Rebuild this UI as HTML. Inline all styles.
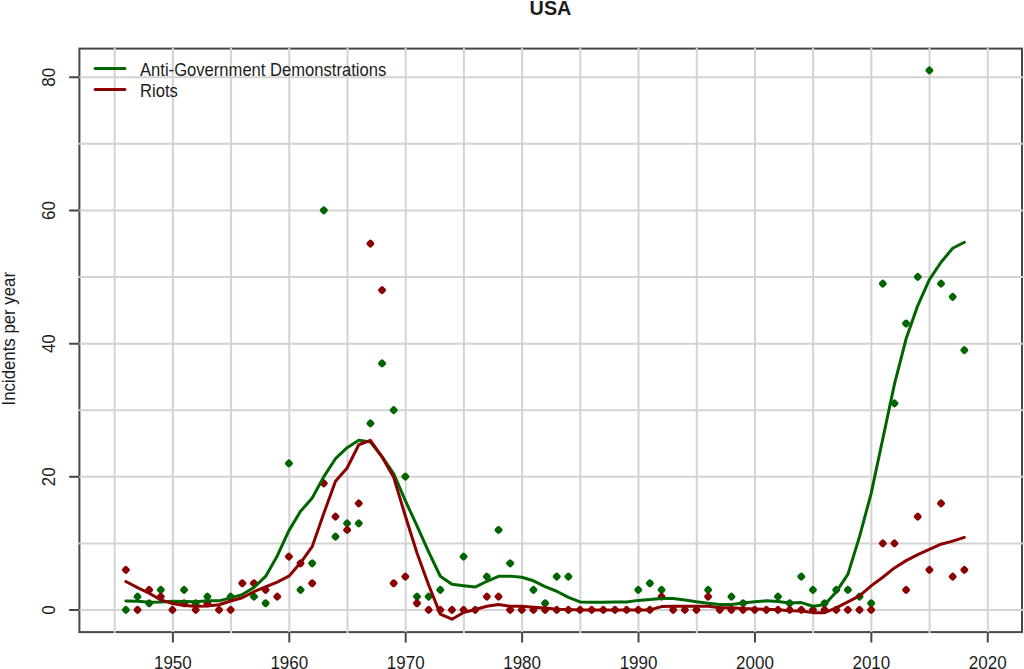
<!DOCTYPE html><html><head><meta charset="utf-8"><title>USA</title><style>html,body{margin:0;padding:0;background:#fff;}svg{display:block;}text{font-family:"Liberation Sans",Arial,sans-serif;fill:#1c1c1c;}</style></head><body>
<svg width="1024" height="669" viewBox="0 0 1024 669">
<rect x="0" y="0" width="1024" height="669" fill="#fff"/>
<rect x="79.4" y="48.6" width="942.60" height="583.50" fill="none" stroke="#474747" stroke-width="2"/>
<path d="M114.67 47.60V633.10M172.88 47.60V633.10M231.08 47.60V633.10M289.29 47.60V633.10M347.50 47.60V633.10M405.71 47.60V633.10M463.91 47.60V633.10M522.12 47.60V633.10M580.33 47.60V633.10M638.53 47.60V633.10M696.74 47.60V633.10M754.95 47.60V633.10M813.15 47.60V633.10M871.36 47.60V633.10M929.57 47.60V633.10M987.77 47.60V633.10M78.40 610.00H1024M78.40 543.41H1024M78.40 476.82H1024M78.40 410.23H1024M78.40 343.64H1024M78.40 277.05H1024M78.40 210.46H1024M78.40 143.87H1024M78.40 77.28H1024" stroke="#d3d3d3" stroke-width="2" fill="none"/>
<rect x="-3.4" y="-3.4" width="6.8" height="6.8" rx="2" transform="translate(125.86,609.90) rotate(45)" fill="#006400"/>
<rect x="-3.4" y="-3.4" width="6.8" height="6.8" rx="2" transform="translate(137.51,596.58) rotate(45)" fill="#006400"/>
<rect x="-3.4" y="-3.4" width="6.8" height="6.8" rx="2" transform="translate(149.15,603.24) rotate(45)" fill="#006400"/>
<rect x="-3.4" y="-3.4" width="6.8" height="6.8" rx="2" transform="translate(160.80,589.92) rotate(45)" fill="#006400"/>
<rect x="-3.4" y="-3.4" width="6.8" height="6.8" rx="2" transform="translate(184.09,589.92) rotate(45)" fill="#006400"/>
<rect x="-3.4" y="-3.4" width="6.8" height="6.8" rx="2" transform="translate(195.73,603.24) rotate(45)" fill="#006400"/>
<rect x="-3.4" y="-3.4" width="6.8" height="6.8" rx="2" transform="translate(207.38,596.58) rotate(45)" fill="#006400"/>
<rect x="-3.4" y="-3.4" width="6.8" height="6.8" rx="2" transform="translate(230.67,596.58) rotate(45)" fill="#006400"/>
<rect x="-3.4" y="-3.4" width="6.8" height="6.8" rx="2" transform="translate(253.96,596.58) rotate(45)" fill="#006400"/>
<rect x="-3.4" y="-3.4" width="6.8" height="6.8" rx="2" transform="translate(265.60,603.24) rotate(45)" fill="#006400"/>
<rect x="-3.4" y="-3.4" width="6.8" height="6.8" rx="2" transform="translate(288.90,463.37) rotate(45)" fill="#006400"/>
<rect x="-3.4" y="-3.4" width="6.8" height="6.8" rx="2" transform="translate(300.54,589.92) rotate(45)" fill="#006400"/>
<rect x="-3.4" y="-3.4" width="6.8" height="6.8" rx="2" transform="translate(312.19,563.28) rotate(45)" fill="#006400"/>
<rect x="-3.4" y="-3.4" width="6.8" height="6.8" rx="2" transform="translate(323.83,210.28) rotate(45)" fill="#006400"/>
<rect x="-3.4" y="-3.4" width="6.8" height="6.8" rx="2" transform="translate(335.48,536.64) rotate(45)" fill="#006400"/>
<rect x="-3.4" y="-3.4" width="6.8" height="6.8" rx="2" transform="translate(347.12,523.31) rotate(45)" fill="#006400"/>
<rect x="-3.4" y="-3.4" width="6.8" height="6.8" rx="2" transform="translate(358.77,523.31) rotate(45)" fill="#006400"/>
<rect x="-3.4" y="-3.4" width="6.8" height="6.8" rx="2" transform="translate(370.41,423.41) rotate(45)" fill="#006400"/>
<rect x="-3.4" y="-3.4" width="6.8" height="6.8" rx="2" transform="translate(382.06,363.47) rotate(45)" fill="#006400"/>
<rect x="-3.4" y="-3.4" width="6.8" height="6.8" rx="2" transform="translate(393.70,410.09) rotate(45)" fill="#006400"/>
<rect x="-3.4" y="-3.4" width="6.8" height="6.8" rx="2" transform="translate(405.35,476.69) rotate(45)" fill="#006400"/>
<rect x="-3.4" y="-3.4" width="6.8" height="6.8" rx="2" transform="translate(417.00,596.58) rotate(45)" fill="#006400"/>
<rect x="-3.4" y="-3.4" width="6.8" height="6.8" rx="2" transform="translate(428.64,596.58) rotate(45)" fill="#006400"/>
<rect x="-3.4" y="-3.4" width="6.8" height="6.8" rx="2" transform="translate(440.29,589.92) rotate(45)" fill="#006400"/>
<rect x="-3.4" y="-3.4" width="6.8" height="6.8" rx="2" transform="translate(463.58,556.62) rotate(45)" fill="#006400"/>
<rect x="-3.4" y="-3.4" width="6.8" height="6.8" rx="2" transform="translate(486.87,576.60) rotate(45)" fill="#006400"/>
<rect x="-3.4" y="-3.4" width="6.8" height="6.8" rx="2" transform="translate(498.51,529.98) rotate(45)" fill="#006400"/>
<rect x="-3.4" y="-3.4" width="6.8" height="6.8" rx="2" transform="translate(510.16,563.28) rotate(45)" fill="#006400"/>
<rect x="-3.4" y="-3.4" width="6.8" height="6.8" rx="2" transform="translate(533.45,589.92) rotate(45)" fill="#006400"/>
<rect x="-3.4" y="-3.4" width="6.8" height="6.8" rx="2" transform="translate(545.09,603.24) rotate(45)" fill="#006400"/>
<rect x="-3.4" y="-3.4" width="6.8" height="6.8" rx="2" transform="translate(556.74,576.60) rotate(45)" fill="#006400"/>
<rect x="-3.4" y="-3.4" width="6.8" height="6.8" rx="2" transform="translate(568.39,576.60) rotate(45)" fill="#006400"/>
<rect x="-3.4" y="-3.4" width="6.8" height="6.8" rx="2" transform="translate(638.26,589.92) rotate(45)" fill="#006400"/>
<rect x="-3.4" y="-3.4" width="6.8" height="6.8" rx="2" transform="translate(649.90,583.26) rotate(45)" fill="#006400"/>
<rect x="-3.4" y="-3.4" width="6.8" height="6.8" rx="2" transform="translate(661.55,589.92) rotate(45)" fill="#006400"/>
<rect x="-3.4" y="-3.4" width="6.8" height="6.8" rx="2" transform="translate(708.13,589.92) rotate(45)" fill="#006400"/>
<rect x="-3.4" y="-3.4" width="6.8" height="6.8" rx="2" transform="translate(731.42,596.58) rotate(45)" fill="#006400"/>
<rect x="-3.4" y="-3.4" width="6.8" height="6.8" rx="2" transform="translate(743.07,603.24) rotate(45)" fill="#006400"/>
<rect x="-3.4" y="-3.4" width="6.8" height="6.8" rx="2" transform="translate(778.00,596.58) rotate(45)" fill="#006400"/>
<rect x="-3.4" y="-3.4" width="6.8" height="6.8" rx="2" transform="translate(789.65,603.24) rotate(45)" fill="#006400"/>
<rect x="-3.4" y="-3.4" width="6.8" height="6.8" rx="2" transform="translate(801.29,576.60) rotate(45)" fill="#006400"/>
<rect x="-3.4" y="-3.4" width="6.8" height="6.8" rx="2" transform="translate(812.94,589.92) rotate(45)" fill="#006400"/>
<rect x="-3.4" y="-3.4" width="6.8" height="6.8" rx="2" transform="translate(824.58,603.24) rotate(45)" fill="#006400"/>
<rect x="-3.4" y="-3.4" width="6.8" height="6.8" rx="2" transform="translate(836.23,589.92) rotate(45)" fill="#006400"/>
<rect x="-3.4" y="-3.4" width="6.8" height="6.8" rx="2" transform="translate(847.87,589.92) rotate(45)" fill="#006400"/>
<rect x="-3.4" y="-3.4" width="6.8" height="6.8" rx="2" transform="translate(859.52,596.58) rotate(45)" fill="#006400"/>
<rect x="-3.4" y="-3.4" width="6.8" height="6.8" rx="2" transform="translate(871.17,603.24) rotate(45)" fill="#006400"/>
<rect x="-3.4" y="-3.4" width="6.8" height="6.8" rx="2" transform="translate(882.81,283.54) rotate(45)" fill="#006400"/>
<rect x="-3.4" y="-3.4" width="6.8" height="6.8" rx="2" transform="translate(894.46,403.43) rotate(45)" fill="#006400"/>
<rect x="-3.4" y="-3.4" width="6.8" height="6.8" rx="2" transform="translate(906.10,323.50) rotate(45)" fill="#006400"/>
<rect x="-3.4" y="-3.4" width="6.8" height="6.8" rx="2" transform="translate(917.75,276.88) rotate(45)" fill="#006400"/>
<rect x="-3.4" y="-3.4" width="6.8" height="6.8" rx="2" transform="translate(929.39,70.41) rotate(45)" fill="#006400"/>
<rect x="-3.4" y="-3.4" width="6.8" height="6.8" rx="2" transform="translate(941.04,283.54) rotate(45)" fill="#006400"/>
<rect x="-3.4" y="-3.4" width="6.8" height="6.8" rx="2" transform="translate(952.68,296.86) rotate(45)" fill="#006400"/>
<rect x="-3.4" y="-3.4" width="6.8" height="6.8" rx="2" transform="translate(964.33,350.14) rotate(45)" fill="#006400"/>
<rect x="-3.4" y="-3.4" width="6.8" height="6.8" rx="2" transform="translate(125.86,569.94) rotate(45)" fill="#8b0000"/>
<rect x="-3.4" y="-3.4" width="6.8" height="6.8" rx="2" transform="translate(137.51,609.90) rotate(45)" fill="#8b0000"/>
<rect x="-3.4" y="-3.4" width="6.8" height="6.8" rx="2" transform="translate(149.15,589.92) rotate(45)" fill="#8b0000"/>
<rect x="-3.4" y="-3.4" width="6.8" height="6.8" rx="2" transform="translate(160.80,596.58) rotate(45)" fill="#8b0000"/>
<rect x="-3.4" y="-3.4" width="6.8" height="6.8" rx="2" transform="translate(172.44,609.90) rotate(45)" fill="#8b0000"/>
<rect x="-3.4" y="-3.4" width="6.8" height="6.8" rx="2" transform="translate(184.09,603.24) rotate(45)" fill="#8b0000"/>
<rect x="-3.4" y="-3.4" width="6.8" height="6.8" rx="2" transform="translate(195.73,609.90) rotate(45)" fill="#8b0000"/>
<rect x="-3.4" y="-3.4" width="6.8" height="6.8" rx="2" transform="translate(207.38,603.24) rotate(45)" fill="#8b0000"/>
<rect x="-3.4" y="-3.4" width="6.8" height="6.8" rx="2" transform="translate(219.02,609.90) rotate(45)" fill="#8b0000"/>
<rect x="-3.4" y="-3.4" width="6.8" height="6.8" rx="2" transform="translate(230.67,609.90) rotate(45)" fill="#8b0000"/>
<rect x="-3.4" y="-3.4" width="6.8" height="6.8" rx="2" transform="translate(242.31,583.26) rotate(45)" fill="#8b0000"/>
<rect x="-3.4" y="-3.4" width="6.8" height="6.8" rx="2" transform="translate(253.96,583.26) rotate(45)" fill="#8b0000"/>
<rect x="-3.4" y="-3.4" width="6.8" height="6.8" rx="2" transform="translate(265.60,589.92) rotate(45)" fill="#8b0000"/>
<rect x="-3.4" y="-3.4" width="6.8" height="6.8" rx="2" transform="translate(277.25,596.58) rotate(45)" fill="#8b0000"/>
<rect x="-3.4" y="-3.4" width="6.8" height="6.8" rx="2" transform="translate(288.90,556.62) rotate(45)" fill="#8b0000"/>
<rect x="-3.4" y="-3.4" width="6.8" height="6.8" rx="2" transform="translate(300.54,563.28) rotate(45)" fill="#8b0000"/>
<rect x="-3.4" y="-3.4" width="6.8" height="6.8" rx="2" transform="translate(312.19,583.26) rotate(45)" fill="#8b0000"/>
<rect x="-3.4" y="-3.4" width="6.8" height="6.8" rx="2" transform="translate(323.83,483.35) rotate(45)" fill="#8b0000"/>
<rect x="-3.4" y="-3.4" width="6.8" height="6.8" rx="2" transform="translate(335.48,516.65) rotate(45)" fill="#8b0000"/>
<rect x="-3.4" y="-3.4" width="6.8" height="6.8" rx="2" transform="translate(347.12,529.98) rotate(45)" fill="#8b0000"/>
<rect x="-3.4" y="-3.4" width="6.8" height="6.8" rx="2" transform="translate(358.77,503.33) rotate(45)" fill="#8b0000"/>
<rect x="-3.4" y="-3.4" width="6.8" height="6.8" rx="2" transform="translate(370.41,243.58) rotate(45)" fill="#8b0000"/>
<rect x="-3.4" y="-3.4" width="6.8" height="6.8" rx="2" transform="translate(382.06,290.20) rotate(45)" fill="#8b0000"/>
<rect x="-3.4" y="-3.4" width="6.8" height="6.8" rx="2" transform="translate(393.70,583.26) rotate(45)" fill="#8b0000"/>
<rect x="-3.4" y="-3.4" width="6.8" height="6.8" rx="2" transform="translate(405.35,576.60) rotate(45)" fill="#8b0000"/>
<rect x="-3.4" y="-3.4" width="6.8" height="6.8" rx="2" transform="translate(417.00,603.24) rotate(45)" fill="#8b0000"/>
<rect x="-3.4" y="-3.4" width="6.8" height="6.8" rx="2" transform="translate(428.64,609.90) rotate(45)" fill="#8b0000"/>
<rect x="-3.4" y="-3.4" width="6.8" height="6.8" rx="2" transform="translate(440.29,609.90) rotate(45)" fill="#8b0000"/>
<rect x="-3.4" y="-3.4" width="6.8" height="6.8" rx="2" transform="translate(451.93,609.90) rotate(45)" fill="#8b0000"/>
<rect x="-3.4" y="-3.4" width="6.8" height="6.8" rx="2" transform="translate(463.58,609.90) rotate(45)" fill="#8b0000"/>
<rect x="-3.4" y="-3.4" width="6.8" height="6.8" rx="2" transform="translate(475.22,609.90) rotate(45)" fill="#8b0000"/>
<rect x="-3.4" y="-3.4" width="6.8" height="6.8" rx="2" transform="translate(486.87,596.58) rotate(45)" fill="#8b0000"/>
<rect x="-3.4" y="-3.4" width="6.8" height="6.8" rx="2" transform="translate(498.51,596.58) rotate(45)" fill="#8b0000"/>
<rect x="-3.4" y="-3.4" width="6.8" height="6.8" rx="2" transform="translate(510.16,609.90) rotate(45)" fill="#8b0000"/>
<rect x="-3.4" y="-3.4" width="6.8" height="6.8" rx="2" transform="translate(521.80,609.90) rotate(45)" fill="#8b0000"/>
<rect x="-3.4" y="-3.4" width="6.8" height="6.8" rx="2" transform="translate(533.45,609.90) rotate(45)" fill="#8b0000"/>
<rect x="-3.4" y="-3.4" width="6.8" height="6.8" rx="2" transform="translate(545.09,609.90) rotate(45)" fill="#8b0000"/>
<rect x="-3.4" y="-3.4" width="6.8" height="6.8" rx="2" transform="translate(556.74,609.90) rotate(45)" fill="#8b0000"/>
<rect x="-3.4" y="-3.4" width="6.8" height="6.8" rx="2" transform="translate(568.39,609.90) rotate(45)" fill="#8b0000"/>
<rect x="-3.4" y="-3.4" width="6.8" height="6.8" rx="2" transform="translate(580.03,609.90) rotate(45)" fill="#8b0000"/>
<rect x="-3.4" y="-3.4" width="6.8" height="6.8" rx="2" transform="translate(591.68,609.90) rotate(45)" fill="#8b0000"/>
<rect x="-3.4" y="-3.4" width="6.8" height="6.8" rx="2" transform="translate(603.32,609.90) rotate(45)" fill="#8b0000"/>
<rect x="-3.4" y="-3.4" width="6.8" height="6.8" rx="2" transform="translate(614.97,609.90) rotate(45)" fill="#8b0000"/>
<rect x="-3.4" y="-3.4" width="6.8" height="6.8" rx="2" transform="translate(626.61,609.90) rotate(45)" fill="#8b0000"/>
<rect x="-3.4" y="-3.4" width="6.8" height="6.8" rx="2" transform="translate(638.26,609.90) rotate(45)" fill="#8b0000"/>
<rect x="-3.4" y="-3.4" width="6.8" height="6.8" rx="2" transform="translate(649.90,609.90) rotate(45)" fill="#8b0000"/>
<rect x="-3.4" y="-3.4" width="6.8" height="6.8" rx="2" transform="translate(661.55,596.58) rotate(45)" fill="#8b0000"/>
<rect x="-3.4" y="-3.4" width="6.8" height="6.8" rx="2" transform="translate(673.19,609.90) rotate(45)" fill="#8b0000"/>
<rect x="-3.4" y="-3.4" width="6.8" height="6.8" rx="2" transform="translate(684.84,609.90) rotate(45)" fill="#8b0000"/>
<rect x="-3.4" y="-3.4" width="6.8" height="6.8" rx="2" transform="translate(696.48,609.90) rotate(45)" fill="#8b0000"/>
<rect x="-3.4" y="-3.4" width="6.8" height="6.8" rx="2" transform="translate(708.13,596.58) rotate(45)" fill="#8b0000"/>
<rect x="-3.4" y="-3.4" width="6.8" height="6.8" rx="2" transform="translate(719.78,609.90) rotate(45)" fill="#8b0000"/>
<rect x="-3.4" y="-3.4" width="6.8" height="6.8" rx="2" transform="translate(731.42,609.90) rotate(45)" fill="#8b0000"/>
<rect x="-3.4" y="-3.4" width="6.8" height="6.8" rx="2" transform="translate(743.07,609.90) rotate(45)" fill="#8b0000"/>
<rect x="-3.4" y="-3.4" width="6.8" height="6.8" rx="2" transform="translate(754.71,609.90) rotate(45)" fill="#8b0000"/>
<rect x="-3.4" y="-3.4" width="6.8" height="6.8" rx="2" transform="translate(766.36,609.90) rotate(45)" fill="#8b0000"/>
<rect x="-3.4" y="-3.4" width="6.8" height="6.8" rx="2" transform="translate(778.00,609.90) rotate(45)" fill="#8b0000"/>
<rect x="-3.4" y="-3.4" width="6.8" height="6.8" rx="2" transform="translate(789.65,609.90) rotate(45)" fill="#8b0000"/>
<rect x="-3.4" y="-3.4" width="6.8" height="6.8" rx="2" transform="translate(801.29,609.90) rotate(45)" fill="#8b0000"/>
<rect x="-3.4" y="-3.4" width="6.8" height="6.8" rx="2" transform="translate(812.94,609.90) rotate(45)" fill="#8b0000"/>
<rect x="-3.4" y="-3.4" width="6.8" height="6.8" rx="2" transform="translate(824.58,609.90) rotate(45)" fill="#8b0000"/>
<rect x="-3.4" y="-3.4" width="6.8" height="6.8" rx="2" transform="translate(836.23,609.90) rotate(45)" fill="#8b0000"/>
<rect x="-3.4" y="-3.4" width="6.8" height="6.8" rx="2" transform="translate(847.87,609.90) rotate(45)" fill="#8b0000"/>
<rect x="-3.4" y="-3.4" width="6.8" height="6.8" rx="2" transform="translate(859.52,609.90) rotate(45)" fill="#8b0000"/>
<rect x="-3.4" y="-3.4" width="6.8" height="6.8" rx="2" transform="translate(871.17,609.90) rotate(45)" fill="#8b0000"/>
<rect x="-3.4" y="-3.4" width="6.8" height="6.8" rx="2" transform="translate(882.81,543.30) rotate(45)" fill="#8b0000"/>
<rect x="-3.4" y="-3.4" width="6.8" height="6.8" rx="2" transform="translate(894.46,543.30) rotate(45)" fill="#8b0000"/>
<rect x="-3.4" y="-3.4" width="6.8" height="6.8" rx="2" transform="translate(906.10,589.92) rotate(45)" fill="#8b0000"/>
<rect x="-3.4" y="-3.4" width="6.8" height="6.8" rx="2" transform="translate(917.75,516.65) rotate(45)" fill="#8b0000"/>
<rect x="-3.4" y="-3.4" width="6.8" height="6.8" rx="2" transform="translate(929.39,569.94) rotate(45)" fill="#8b0000"/>
<rect x="-3.4" y="-3.4" width="6.8" height="6.8" rx="2" transform="translate(941.04,503.33) rotate(45)" fill="#8b0000"/>
<rect x="-3.4" y="-3.4" width="6.8" height="6.8" rx="2" transform="translate(952.68,576.60) rotate(45)" fill="#8b0000"/>
<rect x="-3.4" y="-3.4" width="6.8" height="6.8" rx="2" transform="translate(964.33,569.94) rotate(45)" fill="#8b0000"/>
<polyline points="125.86,600.98 137.51,601.24 149.15,602.24 160.80,601.91 172.44,601.24 184.09,601.51 195.73,601.71 207.38,600.84 219.02,600.84 230.67,597.91 242.31,594.58 253.96,587.52 265.60,576.40 277.25,555.95 288.90,530.64 300.54,511.33 312.19,498.01 323.83,476.69 335.48,458.71 347.12,447.65 358.77,440.26 370.41,442.06 382.06,456.71 393.70,473.76 405.35,500.67 417.00,525.98 428.64,551.95 440.29,576.26 451.93,584.26 463.58,585.72 475.22,587.05 486.87,581.26 498.51,576.26 510.16,576.13 521.80,577.26 533.45,580.79 545.09,586.59 556.74,591.25 568.39,597.38 580.03,601.97 591.68,602.24 603.32,602.24 614.97,602.11 626.61,601.97 638.26,600.38 649.90,599.58 661.55,598.44 673.19,598.44 684.84,599.98 696.48,601.84 708.13,603.31 719.78,604.44 731.42,604.44 743.07,602.97 754.71,601.84 766.36,600.71 778.00,601.57 789.65,602.97 801.29,602.57 812.94,606.30 824.58,604.84 836.23,591.92 847.87,574.40 859.52,536.64 871.17,493.34 882.81,438.73 894.46,384.11 906.10,338.82 917.75,305.52 929.39,279.54 941.04,262.23 952.68,248.24 964.33,242.25" fill="none" stroke="#006400" stroke-width="3" stroke-linejoin="round" stroke-linecap="round"/>
<polyline points="125.86,581.53 137.51,587.59 149.15,593.25 160.80,599.91 172.44,603.51 184.09,605.57 195.73,606.30 207.38,606.04 219.02,604.77 230.67,601.04 242.31,597.78 253.96,591.72 265.60,586.92 277.25,582.13 288.90,576.20 300.54,562.81 312.19,546.63 323.83,513.32 335.48,481.35 347.12,468.03 358.77,444.72 370.41,440.39 382.06,456.98 393.70,477.36 405.35,515.99 417.00,552.95 428.64,584.99 440.29,614.16 451.93,619.22 463.58,612.56 475.22,609.43 486.87,606.30 498.51,604.51 510.16,606.30 521.80,606.30 533.45,607.24 545.09,608.10 556.74,609.23 568.39,609.57 580.03,609.90 591.68,609.90 603.32,609.90 614.97,609.90 626.61,609.90 638.26,609.90 649.90,609.90 661.55,606.57 673.19,606.30 684.84,606.30 696.48,606.30 708.13,606.30 719.78,607.84 731.42,607.84 743.07,608.57 754.71,608.90 766.36,609.30 778.00,609.70 789.65,610.77 801.29,610.97 812.94,612.63 824.58,612.63 836.23,607.90 847.87,601.91 859.52,595.91 871.17,585.92 882.81,577.26 894.46,567.94 906.10,560.61 917.75,554.62 929.39,549.49 941.04,544.23 952.68,541.10 964.33,537.43" fill="none" stroke="#8b0000" stroke-width="3" stroke-linejoin="round" stroke-linecap="round"/>
<path d="M172.88 632.10V642.40M289.29 632.10V642.40M405.71 632.10V642.40M522.12 632.10V642.40M638.53 632.10V642.40M754.95 632.10V642.40M871.36 632.10V642.40M987.77 632.10V642.40M79.40 610.00H69.10M79.40 476.82H69.10M79.40 343.64H69.10M79.40 210.46H69.10M79.40 77.28H69.10" stroke="#474747" stroke-width="2" fill="none"/>
<text transform="translate(172.88,669) scale(1,1.04)" font-size="17" text-anchor="middle">1950</text>
<text transform="translate(289.29,669) scale(1,1.04)" font-size="17" text-anchor="middle">1960</text>
<text transform="translate(405.71,669) scale(1,1.04)" font-size="17" text-anchor="middle">1970</text>
<text transform="translate(522.12,669) scale(1,1.04)" font-size="17" text-anchor="middle">1980</text>
<text transform="translate(638.53,669) scale(1,1.04)" font-size="17" text-anchor="middle">1990</text>
<text transform="translate(754.95,669) scale(1,1.04)" font-size="17" text-anchor="middle">2000</text>
<text transform="translate(871.36,669) scale(1,1.04)" font-size="17" text-anchor="middle">2010</text>
<text transform="translate(987.77,669) scale(1,1.04)" font-size="17" text-anchor="middle">2020</text>
<text transform="translate(55.1,610.00) rotate(-90) scale(1,1.06)" font-size="17" text-anchor="middle">0</text>
<text transform="translate(55.1,476.82) rotate(-90) scale(1,1.06)" font-size="17" text-anchor="middle">20</text>
<text transform="translate(55.1,343.64) rotate(-90) scale(1,1.06)" font-size="17" text-anchor="middle">40</text>
<text transform="translate(55.1,210.46) rotate(-90) scale(1,1.06)" font-size="17" text-anchor="middle">60</text>
<text transform="translate(55.1,77.28) rotate(-90) scale(1,1.06)" font-size="17" text-anchor="middle">80</text>
<text transform="translate(14.5,338.7) rotate(-90) scale(1,1.06)" font-size="16.8" text-anchor="middle">Incidents per year</text>
<text x="550.5" y="15.1" font-size="19.8" font-weight="bold" text-anchor="middle">USA</text>
<path d="M95.1 68.6H124.9" stroke="#006400" stroke-width="3" stroke-linecap="round"/>
<path d="M95.1 89.4H124.9" stroke="#8b0000" stroke-width="3" stroke-linecap="round"/>
<text transform="translate(140,76.3) scale(1,1.07)" font-size="16.6">Anti-Government Demonstrations</text>
<text transform="translate(140,96.6) scale(1,1.07)" font-size="16.6">Riots</text>
</svg></body></html>
